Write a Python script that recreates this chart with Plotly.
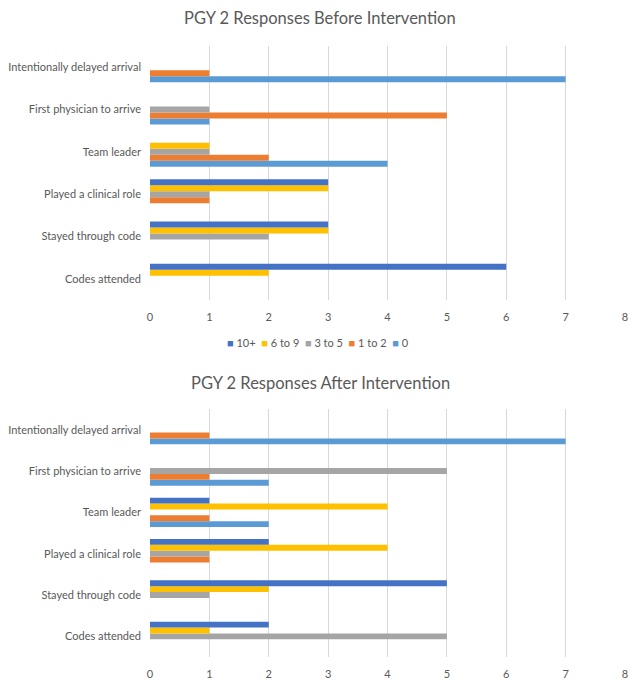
import plotly.graph_objects as go
from plotly.subplots import make_subplots

categories = ["Codes attended", "Stayed through code", "Played a clinical role",
              "Team leader", "First physician to arrive", "Intentionally delayed arrival"]
series_names = ["0", "1 to 2", "3 to 5", "6 to 9", "10+"]
series_colors = ["#5B9BD5", "#ED7D31", "#A5A5A5", "#FFC000", "#4472C4"]

# Before intervention (values per category, in the order of `categories`)
before_0 = [0, 0, 0, 4, 1, 7]
before_1to2 = [0, 0, 1, 2, 5, 1]
before_3to5 = [0, 2, 1, 1, 1, 0]
before_6to9 = [2, 3, 3, 1, 0, 0]
before_10p = [6, 3, 3, 0, 0, 0]

# After intervention
after_0 = [0, 0, 0, 2, 2, 7]
after_1to2 = [0, 0, 1, 1, 1, 1]
after_3to5 = [5, 1, 1, 0, 5, 0]
after_6to9 = [1, 2, 4, 4, 0, 0]
after_10p = [2, 5, 2, 1, 0, 0]

x_ticks = [0, 1, 2, 3, 4, 5, 6, 7, 8]

before = [before_0, before_1to2, before_3to5, before_6to9, before_10p]
after = [after_0, after_1to2, after_3to5, after_6to9, after_10p]

W, H = 636, 690
FONT = "Lato, 'Open Sans', sans-serif"
GREY = "#595959"

fig = make_subplots(rows=2, cols=1)

for row, data in ((1, before), (2, after)):
    for name, color, vals in zip(series_names, series_colors, data):
        fig.add_trace(go.Bar(
            y=categories, x=vals, name=name, orientation="h",
            marker=dict(color=color, line=dict(width=0)),
            showlegend=False,
        ), row=row, col=1)

def px_dom(top, bottom):
    return [1 - bottom / H, 1 - top / H]

axis_common = dict(range=[0, 8], tickvals=x_ticks, showgrid=True, gridcolor="#D9D9D9",
                   gridwidth=1, zeroline=False, showline=False, ticks="", automargin=False,
                   tickfont=dict(family=FONT, size=11, color=GREY), ticklabelstandoff=9)
yaxis_common = dict(type="category", categoryorder="array", categoryarray=categories,
                    showgrid=False, zeroline=False, showline=False, ticks="", automargin=False,
                    tickfont=dict(family=FONT, size=11, color=GREY), ticklabelstandoff=8)

fig.update_layout(
    width=W, height=H,
    margin=dict(l=150, r=11, t=0, b=0),
    paper_bgcolor="white", plot_bgcolor="white",
    barmode="group", bargap=0.29, bargroupgap=0,
    showlegend=False,
    xaxis=dict(domain=[0, 1], **axis_common),
    xaxis2=dict(domain=[0, 1], **axis_common),
    yaxis=dict(domain=px_dom(46, 300), **yaxis_common),
    yaxis2=dict(domain=px_dom(409, 657), **yaxis_common),
)

titles = [("PGY 2 Responses Before Intervention", 18), ("PGY 2 Responses After Intervention", 383)]
for text, ypx in titles:
    fig.add_annotation(text=text, xref="paper", yref="paper", x=(320 - 150) / 475,
                       y=1 - ypx / H, xanchor="center", yanchor="middle", showarrow=False,
                       font=dict(family=FONT, size=16.5, color=GREY))

legend_order = list(zip(series_names, series_colors))[::-1]
legend_text = "  ".join(
    f'<span style="color:{c}">■</span> <span style="color:{GREY}">{n}</span>' for n, c in legend_order
)
fig.add_annotation(text=legend_text, xref="paper", yref="paper", x=(318 - 150) / 475,
                   y=1 - 343 / H, xanchor="center", yanchor="middle", showarrow=False,
                   font=dict(family=FONT, size=11, color=GREY))

fig.write_html("out.html", config={"displayModeBar": False},
               post_script="document.body.style.margin='0';")
